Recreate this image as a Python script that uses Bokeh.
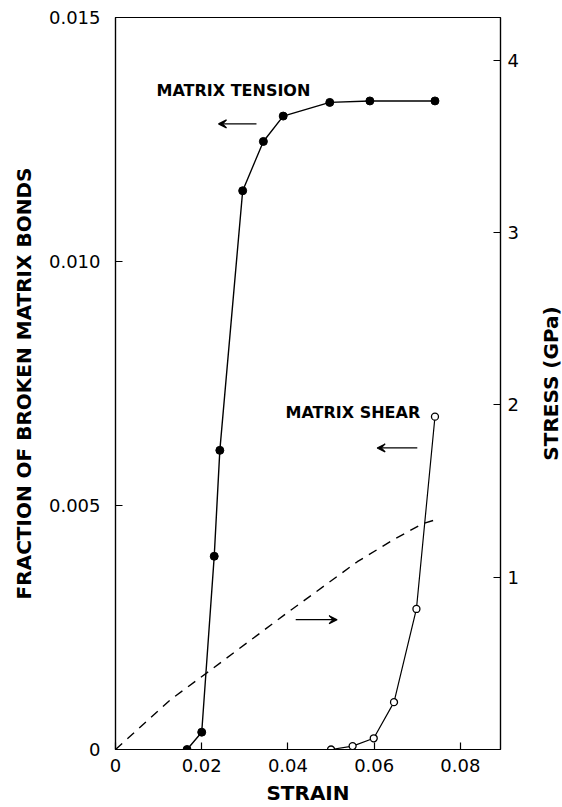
from bokeh.plotting import figure
from bokeh.layouts import row
from bokeh.models import (Range1d, LinearAxis, FixedTicker, Label, Arrow, VeeHead)
from bokeh.embed import file_html
from bokeh.resources import INLINE

# ---- data ----
tension_strain = [0.0166, 0.0200, 0.0229, 0.0242, 0.0295, 0.0343, 0.0389, 0.0497, 0.0590, 0.0741]
tension_frac = [0.0, 0.000355, 0.00396, 0.00613, 0.01145, 0.01246, 0.01298, 0.01326, 0.01329, 0.01329]

shear_strain = [0.0500, 0.0550, 0.0599, 0.0646, 0.0698, 0.0741]
shear_frac = [0.0, 0.00007, 0.00023, 0.00097, 0.00288, 0.00682]

stress_strain = [0.0, 0.0128, 0.0220, 0.0391, 0.0561, 0.0646, 0.0712, 0.0750]
stress_gpa = [0.0, 0.29, 0.46, 0.78, 1.09, 1.22, 1.31, 1.34]

x_ticks = [0, 0.02, 0.04, 0.06, 0.08]
x_tick_labels = ["0", "0.02", "0.04", "0.06", "0.08"]
y_ticks = [0, 0.005, 0.010, 0.015]
y_tick_labels = ["0", "0.005", "0.010", "0.015"]
stress_ticks = [1, 2, 3, 4]
stress_tick_labels = ["1", "2", "3", "4"]

FONT = "DejaVu Sans"

p = figure(width=535, height=807, output_backend="svg", toolbar_location=None,
           x_range=Range1d(0, 0.0893), y_range=Range1d(0, 0.015),
           min_border_left=115, min_border_right=35, min_border_top=17,
           min_border_bottom=57)
p.grid.visible = False
p.outline_line_color = "black"
p.outline_line_width = 1.2
p.background_fill_color = "white"
p.border_fill_color = "white"

p.extra_y_ranges = {"stress": Range1d(0, 4.249)}


def style_axis(ax, ticks, labels, label_text, tick_standoff, label_standoff):
    ax.ticker = FixedTicker(ticks=ticks)
    ax.major_label_overrides = {t: l for t, l in zip(ticks, labels)}
    ax.minor_tick_line_color = None
    ax.major_tick_in = 7
    ax.major_tick_out = 0
    ax.major_tick_line_width = 1.2
    ax.axis_line_width = 1.2
    ax.axis_line_color = "black"
    ax.major_label_text_font = FONT
    ax.major_label_text_font_size = "18px"
    ax.major_label_text_color = "black"
    ax.major_label_standoff = tick_standoff
    ax.axis_label = label_text
    ax.axis_label_text_font = FONT
    ax.axis_label_text_font_size = "20px"
    ax.axis_label_text_font_style = "bold"
    ax.axis_label_text_color = "black"
    ax.axis_label_standoff = label_standoff


style_axis(p.xaxis[0], x_ticks, x_tick_labels, "STRAIN", 9, 6)
style_axis(p.yaxis[0], y_ticks, y_tick_labels, "FRACTION OF BROKEN MATRIX BONDS", 15, 10)
p.yaxis[0].major_label_orientation = "horizontal"

right = LinearAxis(y_range_name="stress")
style_axis(right, stress_ticks, stress_tick_labels, None, 7, 16)
right.major_label_orientation = "horizontal"
p.add_layout(right, "right")

# matrix tension (filled)
p.line(tension_strain, tension_frac, line_color="black", line_width=1.4)
p.scatter(tension_strain, tension_frac, size=8, fill_color="black", line_color="black")

# matrix shear (open)
p.line(shear_strain, shear_frac, line_color="black", line_width=1.2)
p.scatter(shear_strain, shear_frac, size=7, fill_color="white", line_color="black",
          line_width=1.3)

# stress (dashed, right axis)
p.line(stress_strain, stress_gpa, y_range_name="stress", line_color="black",
       line_width=1.4, line_dash="9 7")

# annotations
p.add_layout(Label(x=0.00951, y=0.01351, text="MATRIX TENSION", text_font=FONT,
                   text_font_size="16px", text_font_style="bold", text_baseline="middle",
                   text_color="black"))
p.add_layout(Label(x=0.03944, y=0.00691, text="MATRIX SHEAR", text_font=FONT,
                   text_font_size="16px", text_font_style="bold", text_baseline="middle",
                   text_color="black"))

def arrow(x0, x1, y):
    p.add_layout(Arrow(end=VeeHead(size=8, line_color="black", line_width=1.2,
                                   fill_color="black"),
                       x_start=x0, y_start=y, x_end=x1, y_end=y,
                       line_color="black", line_width=1.2))

arrow(0.0327, 0.0239, 0.01282)
arrow(0.0700, 0.0607, 0.00618)
arrow(0.0418, 0.0514, 0.00266)

# narrow strip carrying the right-hand title, reading bottom to top
p2 = figure(width=27, height=807, output_backend="svg", toolbar_location=None,
            x_range=Range1d(0, 1), y_range=Range1d(0, 4.249), x_axis_location=None,
            min_border_left=0, min_border_right=0, min_border_top=17,
            min_border_bottom=57)
p2.grid.visible = False
p2.outline_line_color = None
p2.border_fill_color = "white"
ax2 = p2.yaxis[0]
ax2.ticker = FixedTicker(ticks=[])
ax2.axis_line_color = None
ax2.major_tick_line_color = None
ax2.minor_tick_line_color = None
ax2.major_label_standoff = 0
ax2.axis_label = "STRESS (GPa)"
ax2.axis_label_text_font = FONT
ax2.axis_label_text_font_size = "20px"
ax2.axis_label_text_font_style = "bold"
ax2.axis_label_text_color = "black"
ax2.axis_label_standoff = 0

open("out.html", "w").write(file_html(row(p, p2, spacing=0), INLINE))
